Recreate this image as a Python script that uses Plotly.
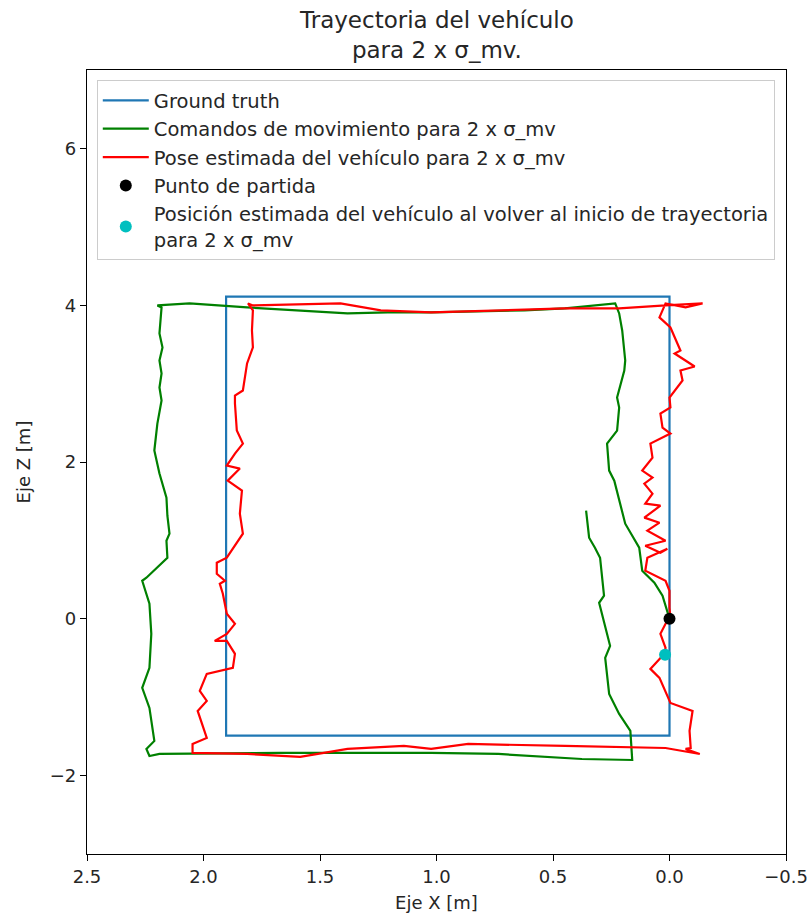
import plotly.graph_objects as go

# Ground truth rectangle path
gt_x = [0.0, 0.0, 1.903, 1.903, 0.0, 0.0]
gt_z = [0.0, 4.11, 4.11, -1.49, -1.49, 1.65]

# Motion commands (green)
cmd_x = [0.000, 0.030, 0.065, 0.117, 0.130, 0.190, 0.237, 0.259, 0.268, 0.225,
         0.216, 0.225, 0.194, 0.190, 0.203, 0.216, 0.233,
         0.449, 0.622, 1.023, 1.209, 1.382, 1.813, 2.060, 2.198,
         2.180, 2.189, 2.176, 2.189, 2.180, 2.189, 2.180, 2.198, 2.211, 2.189,
         2.159, 2.155, 2.146, 2.159, 2.155, 2.245, 2.263, 2.232, 2.224, 2.232,
         2.263, 2.232, 2.211, 2.245, 2.232, 2.189,
         1.671, 1.023, 0.734, 0.376, 0.160,
         0.168, 0.216, 0.259, 0.268, 0.276, 0.255, 0.276, 0.302, 0.281, 0.298,
         0.320, 0.345, 0.358]
cmd_z = [0.000, 0.294, 0.460, 0.613, 0.907, 1.213, 1.762, 1.890, 2.235, 2.401,
         2.695, 2.822, 3.167, 3.295, 3.678, 3.895, 4.023,
         3.959, 3.934, 3.908, 3.908, 3.895, 3.972, 4.023, 3.997,
         3.972, 3.640, 3.461, 3.295, 3.129, 2.950, 2.784, 2.490, 2.146, 1.852,
         1.545, 1.315, 1.086, 0.996, 0.779, 0.524, 0.485, 0.192, -0.192, -0.626,
         -0.881, -1.137, -1.558, -1.660, -1.750, -1.724,
         -1.711, -1.711, -1.724, -1.788, -1.801,
         -1.430, -1.213, -0.958, -0.702, -0.498, -0.345, -0.115, 0.204, 0.294, 0.779,
         0.907, 1.034, 1.379]

# Estimated pose (red)
est_x = [-0.004, 0.000, 0.000, 0.017, 0.104, 0.095, 0.009, 0.039, 0.104, 0.017,
         0.095, 0.043, 0.108, 0.039, 0.104, 0.073, 0.108, 0.073, 0.117, 0.073,
         0.082, -0.004, 0.030, 0.039, -0.004, 0.000, -0.056, -0.047, -0.108, -0.022,
         -0.047, -0.004, 0.043, 0.017, -0.069, -0.142,
         0.017, 0.216, 0.449, 1.023, 1.239, 1.412, 1.788, 1.809,
         1.788, 1.792, 1.788, 1.813, 1.831, 1.865, 1.865, 1.857, 1.831, 1.865,
         1.900, 1.844, 1.896, 1.835, 1.844, 1.835, 1.831, 1.900, 1.943, 1.943,
         1.908, 1.930, 1.917, 1.900, 1.865, 1.900, 1.952, 1.900, 1.865, 1.874,
         1.986, 2.016, 1.986, 2.025, 1.986, 2.047, 2.047,
         1.813, 1.585, 1.382, 1.140, 1.023, 0.864, 0.449, 0.017, -0.130,
         -0.069, -0.091, -0.086, -0.099, -0.004, 0.043, 0.082, 0.022,
         0.017, 0.039, 0.017, -0.004]
est_z = [0.013, 0.140, 0.358, 0.485, 0.613, 0.779, 0.894, 0.843, 0.932, 0.996,
         1.124, 1.226, 1.290, 1.443, 1.469, 1.596, 1.724, 1.801, 1.890, 2.056,
         2.235, 2.363, 2.439, 2.618, 2.695, 2.822, 3.040, 3.167, 3.218, 3.384,
         3.423, 3.716, 3.844, 4.023, 3.972, 4.023,
         3.997, 3.959, 3.959, 3.908, 3.934, 4.023, 3.997, 4.023,
         3.934, 3.678, 3.461, 3.257, 2.912, 2.848, 2.746, 2.401, 2.235, 2.107,
         1.954, 1.916, 1.762, 1.635, 1.341, 1.124, 1.086, 0.779, 0.715, 0.575,
         0.485, 0.447, 0.319, 0.064, -0.064, -0.192, -0.281, -0.281, -0.447, -0.626,
         -0.702, -0.920, -1.047, -1.175, -1.520, -1.596, -1.711,
         -1.724, -1.762, -1.660, -1.622, -1.660, -1.596, -1.622, -1.648, -1.724,
         -1.660, -1.648, -1.430, -1.175, -1.073, -0.754, -0.639, -0.447,
         -0.370, -0.192, -0.064, 0.013]

start_x = [0.0]
start_z = [0.0]
return_x = [0.019]
return_z = [-0.46]

x_ticks = [2.5, 2.0, 1.5, 1.0, 0.5, 0.0, -0.5]
z_ticks = [-2, 0, 2, 4, 6]

FONT = "DejaVu Sans"
TXT = "#262626"
fig = go.Figure()
fig.add_trace(go.Scatter(x=gt_x, y=gt_z, mode="lines", name="Ground truth",
                         line=dict(color="#1f77b4", width=2.2)))
fig.add_trace(go.Scatter(x=cmd_x, y=cmd_z, mode="lines",
                         name="Comandos de movimiento para 2 x σ_mv",
                         line=dict(color="#008000", width=2.2)))
fig.add_trace(go.Scatter(x=est_x, y=est_z, mode="lines",
                         name="Pose estimada del vehículo para 2 x σ_mv",
                         line=dict(color="#ff0000", width=2.2)))
fig.add_trace(go.Scatter(x=start_x, y=start_z, mode="markers", name="Punto de partida",
                         marker=dict(color="black", size=12)))
fig.add_trace(go.Scatter(x=return_x, y=return_z, mode="markers",
                         name="Posición estimada del vehículo al volver al inicio de trayectoria<br>para 2 x σ_mv",
                         marker=dict(color="#00bfbf", size=12)))

axis_common = dict(showgrid=False, zeroline=False, showline=True, mirror=True,
                   linecolor="black", linewidth=1.3, ticks="outside", ticklen=6,
                   tickwidth=1.3, tickcolor="black", automargin=False,
                   tickfont=dict(family=FONT, size=18, color=TXT))

fig.update_layout(
    width=810, height=917,
    margin=dict(l=87, r=24, t=70, b=63),
    paper_bgcolor="white", plot_bgcolor="white",
    font=dict(family=FONT, size=18, color=TXT),
    xaxis=dict(range=[2.5, -0.5], tickvals=x_ticks,
               ticktext=[f"{v:.1f}".replace("-", "−") for v in x_ticks],
               title=dict(text="Eje X [m]", standoff=10,
                          font=dict(family=FONT, size=18, color=TXT)),
               **axis_common),
    yaxis=dict(range=[-3, 7], tickvals=z_ticks,
               ticktext=[str(v).replace("-", "−") for v in z_ticks],
               title=dict(text="Eje Z [m]", standoff=14,
                          font=dict(family=FONT, size=18, color=TXT)),
               **axis_common),
    legend=dict(x=0.014, y=0.987, xanchor="left", yanchor="top",
                bgcolor="rgba(255,255,255,0.85)", bordercolor="#cccccc", borderwidth=1,
                font=dict(family=FONT, size=19.5, color=TXT),
                tracegroupgap=2, itemwidth=46),
    showlegend=True,
    annotations=[dict(text="Trayectoria del vehículo<br>para 2 x σ_mv.",
                      x=0.5, xref="paper", y=1 + 65 / 784, yref="paper",
                      xanchor="center", yanchor="top", showarrow=False,
                      font=dict(family=FONT, size=23, color=TXT))],
)

fig.write_html("out.html")
